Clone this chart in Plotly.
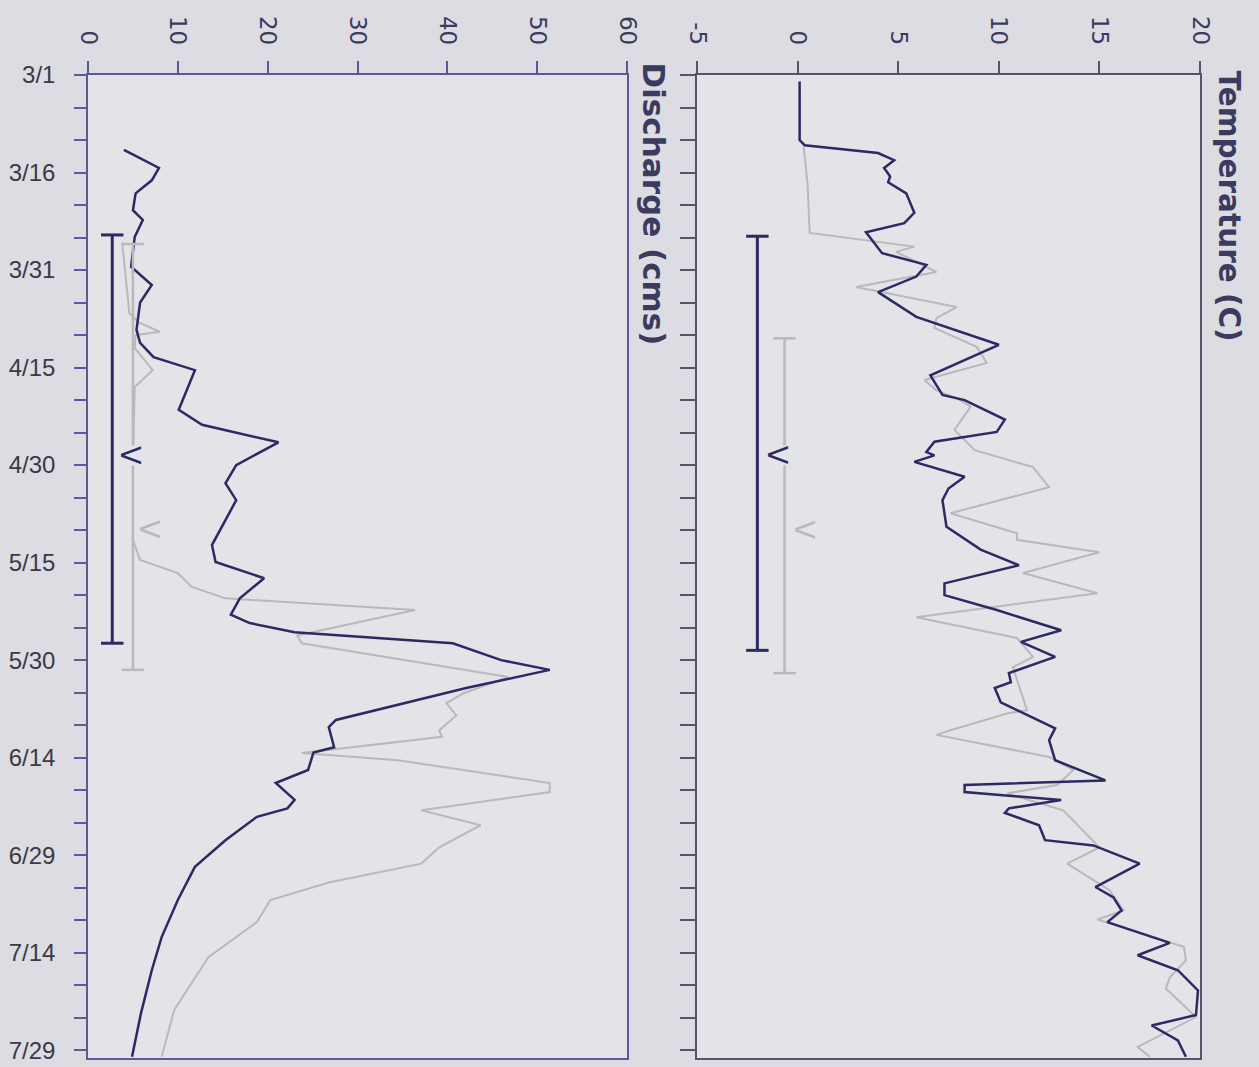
import plotly.graph_objects as go

# ---------------- data ----------------
# day index: 0 = 3/1, 150 = 7/29
date_tick_days = [0, 15, 30, 45, 60, 75, 90, 105, 120, 135, 150]
date_tick_labels = ["3/1", "3/16", "3/31", "4/15", "4/30", "5/15", "5/30", "6/14", "6/29", "7/14", "7/29"]
minor_tick_days = list(range(0, 152, 5))

q_tick_vals = [0, 10, 20, 30, 40, 50, 60]
q_tick_text = ["0", "10", "20", "30", "40", "50", "60"]
t_tick_vals = [-5, 0, 5, 10, 15, 20]
t_tick_text = ["-5", "0", "5", "10", "15", "20"]

# discharge (cms) - dark series
q_dark_day = [11.5, 14.3, 16.2, 18.2, 20.8, 22.3, 24.9, 29.5, 32.3, 35, 39.2, 41.2, 43.4, 45.4,
              51.5, 53.8, 56.5, 60, 62.8, 65.4, 72.3, 74.9, 77.4, 80.5, 83, 84.3, 85.7, 87.4,
              90, 91.5, 94.3, 99.2, 100.3, 103.4, 104.2, 106.9, 108.9, 111.5, 112.8, 114.1,
              117.7, 121.8, 126.9, 132.6, 137.7, 144.3, 151]
q_dark_val = [4.0, 7.9, 7.1, 5.3, 5.0, 6.1, 5.2, 4.8, 7.1, 5.8, 5.4, 5.8, 7.3, 11.9,
              10.1, 12.7, 21.2, 16.5, 15.3, 16.5, 13.8, 14.2, 19.6, 16.9, 15.9, 18.0, 23.0, 40.6,
              46.0, 51.4, 42.1, 27.6, 26.8, 27.4, 25.1, 24.5, 20.9, 23.0, 22.2, 18.8,
              15.3, 11.9, 10.0, 8.2, 7.1, 5.9, 4.9]

# discharge (cms) - gray series
q_gray_day = [25.7, 31.5, 36.6, 38, 39.5, 40, 42, 45.4, 48, 60, 71.5, 74.6, 76.6, 78.7, 80.5,
              82.3, 86.2, 87.4, 90.3, 92.6, 95.1, 96.6, 98.5, 100.8, 101.8, 103.8, 104.3, 105.4,
              108.9, 110.3, 113.1, 115.4, 118.8, 121.3, 124.2, 126.9, 130.3, 135.7, 143.8, 151]
q_gray_val = [3.8, 4.2, 4.6, 5.6, 8.0, 5.3, 5.2, 7.2, 5.2, 5.0, 5.0, 5.8, 10.0, 11.5, 15.3,
              36.4, 23.3, 23.8, 36.4, 46.8, 41.8, 39.9, 41.0, 39.1, 39.4, 26.8, 23.8, 34.5,
              51.4, 51.4, 37.1, 43.7, 39.1, 37.1, 26.8, 20.3, 18.8, 13.4, 9.6, 8.2]

# temperature (C) - dark series
t_dark_day = [1, 10, 10.8, 12, 13.1, 14.3, 15.6, 16.5, 18.2, 21.2, 22.8, 24.2, 27.4, 29.2, 31,
              33.4, 37.2, 41.5, 46.2, 49.2, 50, 53, 54.9, 56.4, 58, 58.5, 59.5, 61.8, 63.6, 65.4,
              69.5, 73, 75.4, 78.2, 80, 82.3, 85.4, 87.2, 89.5, 92, 93.4, 94.3, 96.5, 100.5,
              102.3, 105.4, 108.5, 109.2, 110.3, 111.5, 112.8, 113.5, 115.4, 117.7, 118.5,
              121.3, 124.9, 126.5, 128.5, 130.3, 133.5, 135.4, 137.7, 140.8, 144.6, 146.2,
              148.5, 151]
t_dark_val = [0.1, 0.1, 0.35, 4.0, 4.8, 4.3, 4.6, 4.5, 5.4, 5.8, 5.3, 3.4, 4.2, 6.4, 5.9,
              4.0, 5.9, 10.0, 6.6, 7.2, 8.3, 10.3, 9.9, 6.8, 6.4, 6.8, 5.8, 8.3, 7.5, 7.2,
              7.4, 9.1, 11.0, 7.3, 7.3, 9.9, 13.1, 11.1, 12.8, 10.5, 10.6, 9.8, 10.1, 12.8,
              12.5, 12.8, 15.3, 8.3, 8.3, 13.1, 10.5, 10.3, 12.0, 12.3, 14.7,
              17.0, 14.8, 15.7, 16.1, 15.4, 18.5, 16.9, 18.9, 19.9, 19.8, 17.6,
              18.9, 19.3]

# temperature (C) - gray series
t_gray_day = [11, 17, 24.3, 25.4, 26.4, 27.2, 30.3, 32.6, 33.5, 35.7, 37.4, 38.9, 41.8, 44.3,
              46.9, 48.5, 49.7, 51, 54.6, 57.7, 60.3, 63.4, 67.4, 70.5, 71.5, 73.4, 76.6, 79.7,
              83.4, 86.6, 89.5, 91.1, 97.7, 98.2, 100.8, 101.5, 104.9, 106.9, 109.2, 110.5,
              113.1, 118.8, 121.3, 125.4, 128.5, 129.9, 134.1, 136.2, 138.8, 140.5, 144.9,
              149.5, 151]
t_gray_val = [0.3, 0.5, 0.6, 3.3, 5.8, 4.9, 6.9, 2.9, 4.3, 7.9, 6.9, 6.8, 8.9, 9.4,
              6.3, 6.9, 7.9, 8.6, 7.8, 8.8, 11.7, 12.5, 7.6, 10.9, 10.9, 15.0, 11.2, 14.9,
              5.9, 10.9, 11.7, 10.7, 11.4, 10.4, 7.6, 6.9, 12.5, 13.7, 12.9, 10.4,
              13.2, 15.0, 13.4, 15.5, 16.2, 14.9, 19.2, 19.3, 18.5, 18.3, 19.8,
              16.9, 17.5]

# range bars (start day, end day, value position) and their "V" labels
q_bar_dark = dict(days=[24.6, 87.4], val=2.7, label_day=58.5, label_val=4.7)
q_bar_gray = dict(days=[26.0, 91.5], val=5.0, label_day=70.0, label_val=6.9)
t_bar_dark = dict(days=[24.8, 88.5], val=-2.0, label_day=58.5, label_val=-1.0)
t_bar_gray = dict(days=[40.5, 92.0], val=-0.65, label_day=70.0, label_val=0.35)

# ---------------- style ----------------
DARK = "#2b2a63"
GRAY = "#b9b9bd"
AXIS = "#5a5a96"
FRAME2 = "#55556a"
TXT = "#3b3b5e"
PLOT_BG = "#e3e3e8"
PAPER_BG = "#dcdce2"

W, H = 1259, 1067
def px_x(p):
    return p / W
def px_y(p):
    return 1 - p / H

fig = go.Figure()

def add_line(xs, ys, color, width, xa, ya):
    fig.add_trace(go.Scatter(x=ys, y=xs, mode="lines", line=dict(color=color, width=width),
                             xaxis=xa, yaxis=ya, showlegend=False, hoverinfo="skip"))

add_line(q_gray_day, q_gray_val, GRAY, 2, "x", "y")
add_line(q_dark_day, q_dark_val, DARK, 2.5, "x", "y")
add_line(t_gray_day, t_gray_val, GRAY, 2, "x2", "y2")
add_line(t_dark_day, t_dark_val, DARK, 2.5, "x2", "y2")

def add_bar(bar, color, width, xa, ya):
    fig.add_trace(go.Scatter(x=[bar["val"], bar["val"]], y=bar["days"], mode="lines+markers",
                             line=dict(color=color, width=width),
                             marker=dict(symbol="line-ew", size=16,
                                         line=dict(color=color, width=width)),
                             xaxis=xa, yaxis=ya, showlegend=False, hoverinfo="skip"))

add_bar(q_bar_gray, GRAY, 2.5, "x", "y")
add_bar(q_bar_dark, DARK, 3, "x", "y")
add_bar(t_bar_gray, GRAY, 2.5, "x2", "y2")
add_bar(t_bar_dark, DARK, 3, "x2", "y2")

annotations = []
for bar, color, xr, yr in [(q_bar_dark, DARK, "x", "y"), (q_bar_gray, GRAY, "x", "y"),
                           (t_bar_dark, DARK, "x2", "y2"), (t_bar_gray, GRAY, "x2", "y2")]:
    annotations.append(dict(x=bar["label_val"], y=bar["label_day"], xref=xr, yref=yr,
                            text="V", textangle=90, showarrow=False, borderpad=0,
                            font=dict(family="DejaVu Sans", size=27, color=color),
                            bgcolor=PLOT_BG if color == DARK else "rgba(0,0,0,0)"))

annotations.append(dict(x=px_x(653), y=px_y(60), xref="paper", yref="paper",
                        text="<b>Discharge (cms)</b>", textangle=90, showarrow=False,
                        xanchor="center", yanchor="top",
                        font=dict(family="DejaVu Sans", size=31, color=TXT)))
annotations.append(dict(x=px_x(1228), y=px_y(68), xref="paper", yref="paper",
                        text="<b>Temperature (C)</b>", textangle=90, showarrow=False,
                        xanchor="center", yanchor="top",
                        font=dict(family="DejaVu Sans", size=29.5, color=TXT)))

y_dom = [px_y(1058), px_y(75)]
day_range = [151.2, 0]

tickfont = dict(family="DejaVu Sans", size=23, color=TXT)

fig.update_layout(
    width=W, height=H, autosize=False,
    margin=dict(l=0, r=0, t=0, b=0, pad=0),
    paper_bgcolor=PAPER_BG, plot_bgcolor=PLOT_BG,
    annotations=annotations,
    xaxis=dict(domain=[px_x(88), px_x(627)], range=[0, 60], side="top",
               tickmode="array", tickvals=q_tick_vals, ticktext=q_tick_text,
               ticks="outside", ticklen=12, ticklabelstandoff=8,
               tickcolor=AXIS, tickwidth=1.5, tickangle=90, tickfont=tickfont,
               showline=True, linecolor=AXIS, linewidth=1.5, mirror=True,
               showgrid=False, zeroline=False, anchor="y", automargin=False),
    yaxis=dict(domain=y_dom, range=day_range, tickmode="array",
               tickvals=date_tick_days, ticktext=date_tick_labels,
               ticks="outside", ticklen=12, tickcolor=AXIS, tickwidth=1.5,
               minor=dict(tickvals=minor_tick_days, ticks="outside", ticklen=12,
                          tickcolor=AXIS, tickwidth=1.5, showgrid=False),
               tickfont=dict(family="Liberation Sans, Arial", size=24, color="#3a3a48"),
               ticklabelstandoff=14,
               showline=True, linecolor=AXIS, linewidth=1.5, mirror=True,
               showgrid=False, zeroline=False, anchor="x", automargin=False),
    xaxis2=dict(domain=[px_x(697), px_x(1200)], range=[-5, 20], side="top",
                tickmode="array", tickvals=t_tick_vals, ticktext=t_tick_text,
                ticks="outside", ticklen=12, ticklabelstandoff=8,
                tickcolor=FRAME2, tickwidth=1.5, tickangle=90, tickfont=tickfont,
                showline=True, linecolor=FRAME2, linewidth=1.5, mirror=True,
                showgrid=False, zeroline=False, anchor="y2", automargin=False),
    yaxis2=dict(domain=y_dom, range=day_range, tickmode="array",
                tickvals=date_tick_days, ticktext=["" for _ in date_tick_labels],
                ticks="outside", ticklen=15, tickcolor=FRAME2, tickwidth=1.5,
                minor=dict(tickvals=minor_tick_days, ticks="outside", ticklen=15,
                           tickcolor=FRAME2, tickwidth=1.5, showgrid=False),
                showticklabels=False,
                showline=True, linecolor=FRAME2, linewidth=1.5, mirror=True,
                showgrid=False, zeroline=False, anchor="x2", automargin=False),
)

fig.write_html("out.html", config={"displayModeBar": False},
               post_script="document.body.style.margin='0';document.body.style.overflow='hidden';")
